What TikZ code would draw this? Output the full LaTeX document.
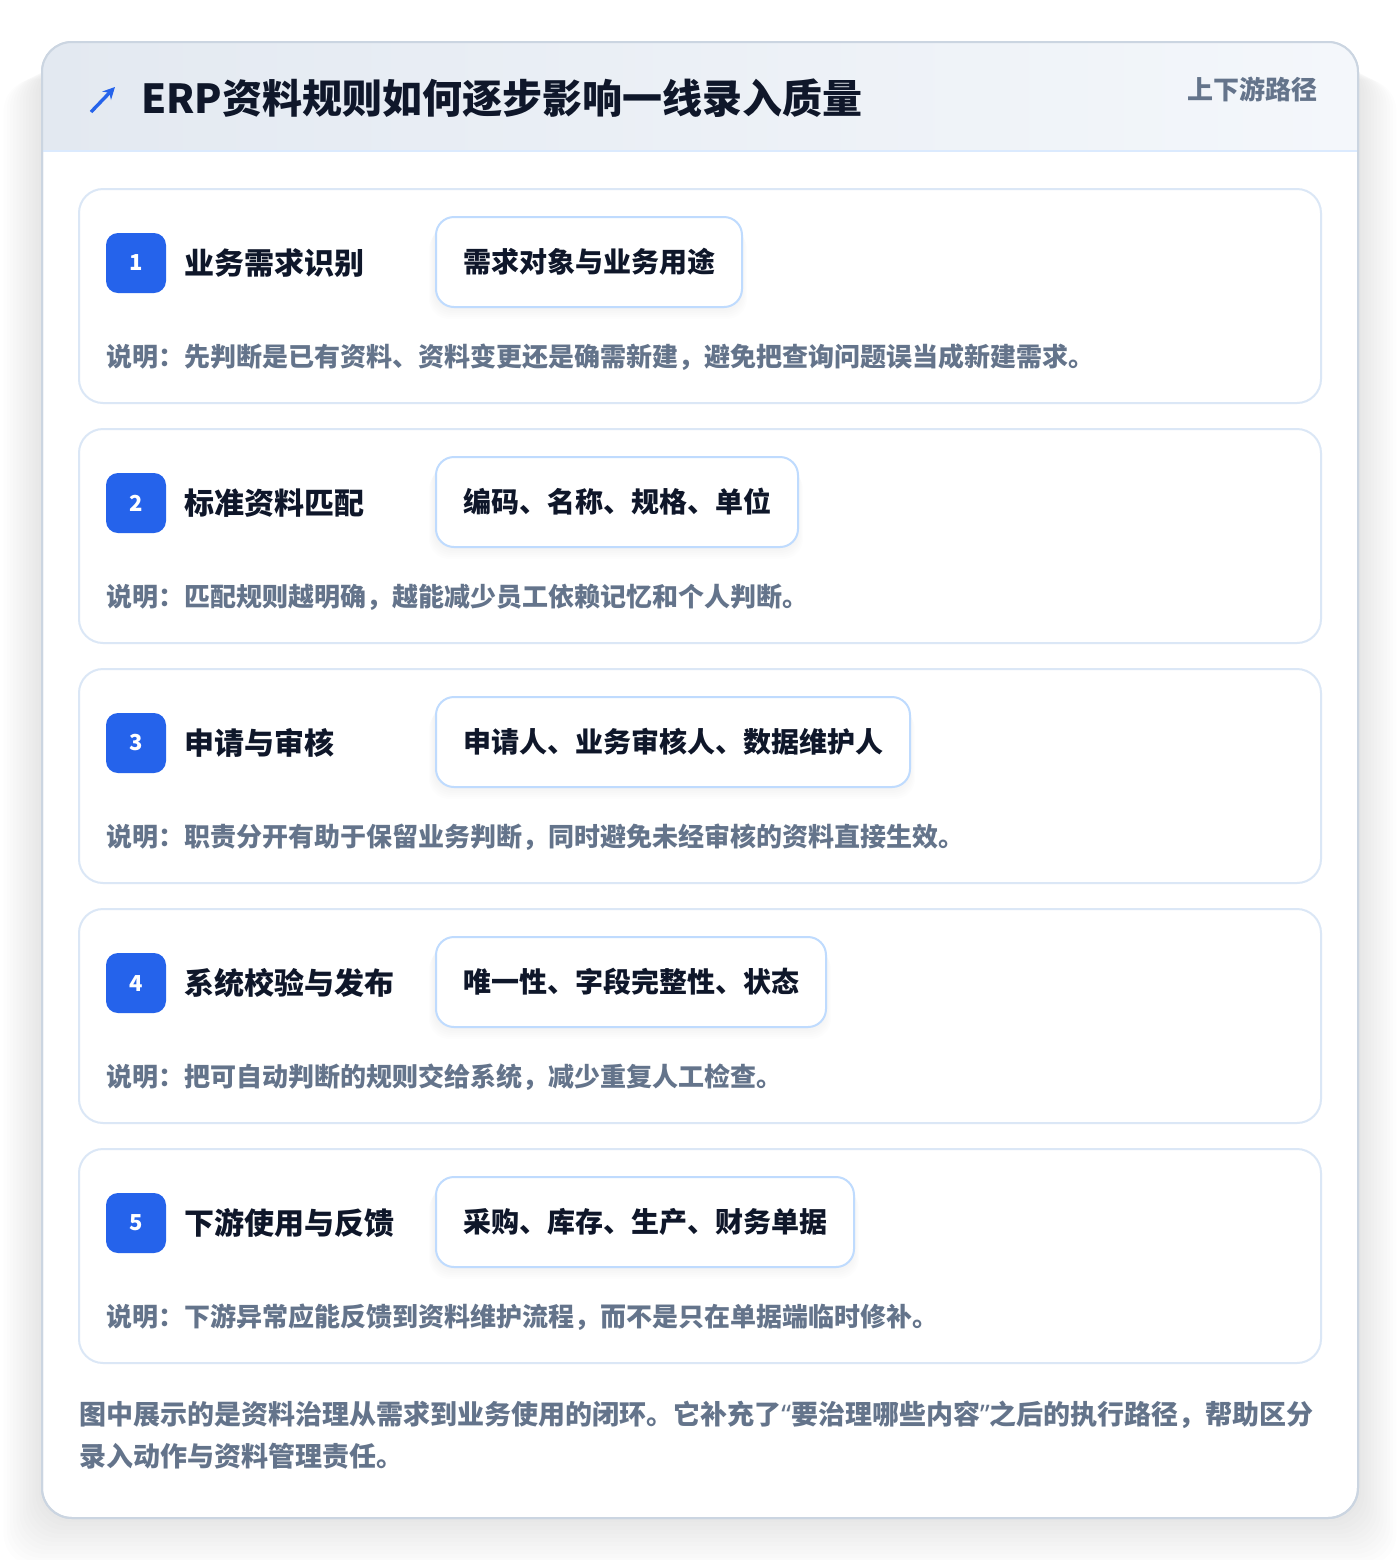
\documentclass[tikz,border=0pt]{standalone}
\usepackage{fontspec}
\setmainfont{Noto Sans CJK SC}
\newfontfamily\quotefont{Noto Sans}
\usetikzlibrary{positioning,arrows.meta}

\definecolor{ink}{HTML}{0F172A}
\definecolor{muted}{HTML}{64748B}
\definecolor{accent}{HTML}{2563EB}
\definecolor{frame}{HTML}{CBD5E1}
\definecolor{cardline}{HTML}{DBE7F6}
\definecolor{tagline}{HTML}{BFDBFE}
\definecolor{hdrleft}{HTML}{E3E9F1}
\definecolor{hdrright}{HTML}{F4F7FB}
\definecolor{hdrline}{HTML}{DBEAFE}

\newcommand{\narrowquote}[1]{{\quotefont\bfseries #1}}

\tikzset{
  stepcard/.style={draw=cardline,line width=1pt,fill=white,rounded corners=12pt},
  badge/.style={fill=accent,text=white,rounded corners=6pt,minimum size=30pt,inner sep=0pt,
    font=\fontsize{11}{13}\selectfont\bfseries},
  steptitle/.style={text=ink,inner sep=0pt,font=\fontsize{15}{18}\selectfont\bfseries},
  tagbox/.style={draw=tagline,line width=1pt,fill=white,rounded corners=9pt,anchor=west,
    minimum height=45pt,inner xsep=13.5pt,text=ink,font=\fontsize{14}{17}\selectfont\bfseries},
  desc/.style={anchor=west,inner sep=0pt,text=muted,font=\fontsize{13}{16}\selectfont\bfseries},
  foot/.style={anchor=west,inner sep=0pt,text=muted,font=\fontsize{13.5}{16}\selectfont\bfseries}
}

\begin{document}
\begin{tikzpicture}[x=.5pt,y=-.5pt]
\useasboundingbox (0,0) rectangle (1400,1560);
\fill[white] (0,0) rectangle (1400,1560);
%\draw[very thin,dashed,step=100] (0,0) grid (1400,1560);

% soft shadow round the panel
\foreach \d in {4,8,...,48}
  \fill[black!80!blue,opacity=.006,rounded corners=16pt] (42-\d*.8,60+\d*.4) rectangle (1358+\d*.8,1518+\d);

% panel and header
\draw[frame,line width=1pt,fill=white,rounded corners=15pt] (42,42) rectangle (1358,1518);
\begin{scope}
\clip[rounded corners=15pt] (42,42) rectangle (1358,1518);
\shade[left color=hdrleft,right color=hdrright] (42,42) rectangle (1358,151);
\end{scope}
\draw[hdrline,line width=1pt] (42,151) -- (1358,151);
\draw[frame,line width=1pt,rounded corners=15pt] (42,42) rectangle (1358,1518);

\draw[-{Stealth[length=6pt,width=6pt]},accent,line width=1.7pt] (91,112) -- (115,87);
\node[anchor=west,inner sep=0pt,text=ink,font=\fontsize{20}{24}\selectfont\bfseries] (title) at (141,98) {ERP资料规则如何逐步影响一线录入质量};
\node[anchor=east,inner sep=0pt,text=muted,font=\fontsize{13}{16}\selectfont\bfseries] (route) at (1318,89) {上下游路径};

% step 1
\draw[stepcard] (79,189) rectangle (1321,403);
\node[badge] (badge1) at (136,263) {1};
\node[steptitle,right=9pt of badge1] (step1) {业务需求识别};
\foreach \d in {2,4,...,12} \fill[black,opacity=.008,rounded corners=10pt] (435-\d*.5,217+\d) rectangle (741+\d*.5,307+\d);
\node[tagbox] (tag1) at (435,262) {需求对象与业务用途};
\node[desc] (desc1) at (106,357) {说明：先判断是已有资料、资料变更还是确需新建，避免把查询问题误当成新建需求。};

% step 2
\draw[stepcard] (79,429) rectangle (1321,643);
\node[badge] (badge2) at (136,503) {2};
\node[steptitle,right=9pt of badge2] (step2) {标准资料匹配};
\foreach \d in {2,4,...,12} \fill[black,opacity=.008,rounded corners=10pt] (435-\d*.5,457+\d) rectangle (797+\d*.5,547+\d);
\node[tagbox] (tag2) at (435,502) {编码、名称、规格、单位};
\node[desc] (desc2) at (106,597) {说明：匹配规则越明确，越能减少员工依赖记忆和个人判断。};

% step 3
\draw[stepcard] (79,669) rectangle (1321,883);
\node[badge] (badge3) at (136,743) {3};
\node[steptitle,right=9pt of badge3] (step3) {申请与审核};
\foreach \d in {2,4,...,12} \fill[black,opacity=.008,rounded corners=10pt] (435-\d*.5,697+\d) rectangle (909+\d*.5,787+\d);
\node[tagbox] (tag3) at (435,742) {申请人、业务审核人、数据维护人};
\node[desc] (desc3) at (106,837) {说明：职责分开有助于保留业务判断，同时避免未经审核的资料直接生效。};

% step 4
\draw[stepcard] (79,909) rectangle (1321,1123);
\node[badge] (badge4) at (136,983) {4};
\node[steptitle,right=9pt of badge4] (step4) {系统校验与发布};
\foreach \d in {2,4,...,12} \fill[black,opacity=.008,rounded corners=10pt] (435-\d*.5,937+\d) rectangle (825+\d*.5,1027+\d);
\node[tagbox] (tag4) at (435,982) {唯一性、字段完整性、状态};
\node[desc] (desc4) at (106,1077) {说明：把可自动判断的规则交给系统，减少重复人工检查。};

% step 5
\draw[stepcard] (79,1149) rectangle (1321,1363);
\node[badge] (badge5) at (136,1223) {5};
\node[steptitle,right=9pt of badge5] (step5) {下游使用与反馈};
\foreach \d in {2,4,...,12} \fill[black,opacity=.008,rounded corners=10pt] (435-\d*.5,1177+\d) rectangle (853+\d*.5,1267+\d);
\node[tagbox] (tag5) at (435,1222) {采购、库存、生产、财务单据};
\node[desc] (desc5) at (106,1317) {说明：下游异常应能反馈到资料维护流程，而不是只在单据端临时修补。};

% closing note
\node[foot] (note1) at (79,1415) {图中展示的是资料治理从需求到业务使用的闭环。它补充了\narrowquote{“}要治理哪些内容\narrowquote{”}之后的执行路径，帮助区分};
\node[foot] (note2) at (79,1456) {录入动作与资料管理责任。};
\end{tikzpicture}
\end{document}
